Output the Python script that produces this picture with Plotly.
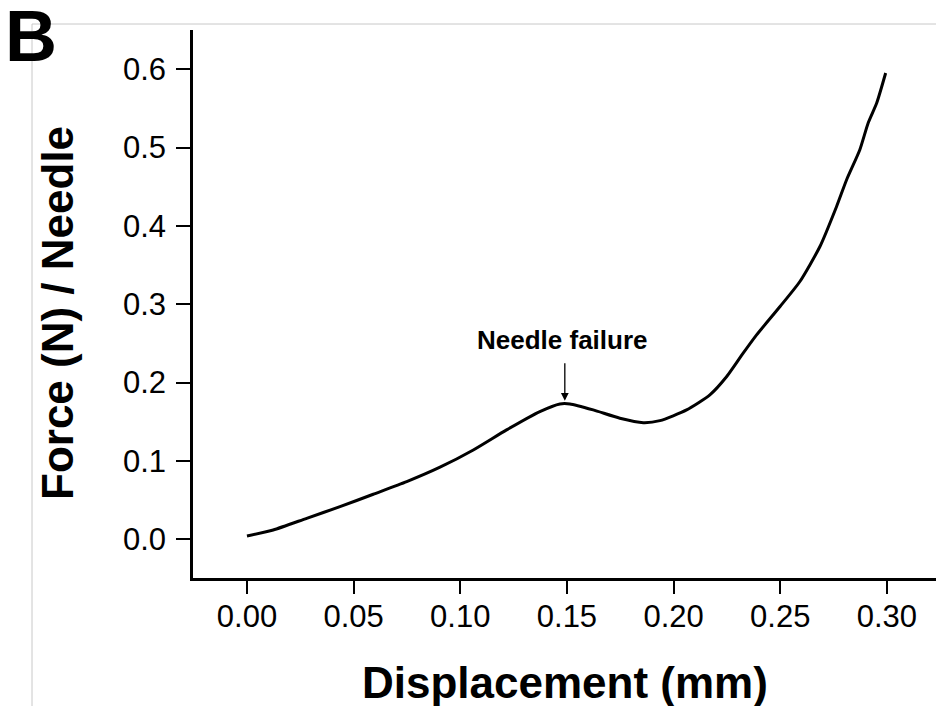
import plotly.graph_objects as go

displacement = [0.000, 0.0123, 0.0280, 0.0436, 0.0592, 0.0749, 0.0905, 0.1061, 0.1217,
                0.1373, 0.1467, 0.1514, 0.1623, 0.1748, 0.1858, 0.1936, 0.2061, 0.2170,
                0.2249, 0.2326, 0.2389, 0.2499, 0.2592, 0.2686, 0.2764, 0.2811, 0.2873,
                0.2912, 0.2952, 0.2994]
force = [0.0042, 0.0119, 0.0268, 0.0416, 0.0575, 0.0736, 0.0920, 0.1140, 0.1396,
         0.1630, 0.1728, 0.1728, 0.1651, 0.1545, 0.1489, 0.1515, 0.1651, 0.1843,
         0.2077, 0.2375, 0.2609, 0.2971, 0.3290, 0.3737, 0.4248, 0.4589, 0.4972,
         0.5313, 0.5568, 0.5951]

x_ticks = [0.00, 0.05, 0.10, 0.15, 0.20, 0.25, 0.30]
x_tick_labels = ["0.00", "0.05", "0.10", "0.15", "0.20", "0.25", "0.30"]
y_ticks = [0.0, 0.1, 0.2, 0.3, 0.4, 0.5, 0.6]
y_tick_labels = ["0.0", "0.1", "0.2", "0.3", "0.4", "0.5", "0.6"]

FONT = "Liberation Sans, Arial, sans-serif"

fig = go.Figure()
fig.add_trace(go.Scatter(x=displacement, y=force, mode="lines",
                         line=dict(color="black", width=3, shape="spline", smoothing=0.6),
                         showlegend=False, hoverinfo="skip"))

fig.update_layout(
    width=936, height=706,
    margin=dict(l=193, r=0, t=30, b=128),
    paper_bgcolor="white", plot_bgcolor="white",
    font=dict(family=FONT, color="black"),
    xaxis=dict(range=[-0.0253, 0.323], tickvals=x_ticks, ticktext=x_tick_labels,
               showgrid=False, zeroline=False, showline=True, linecolor="black", linewidth=2.5,
               ticks="outside", ticklen=13, tickwidth=2, tickcolor="black",
               tickfont=dict(size=31, family=FONT, color="black"), ticklabelstandoff=-4),
    yaxis=dict(range=[-0.0494, 0.650], tickvals=y_ticks, ticktext=y_tick_labels,
               showgrid=False, zeroline=False, showline=True, linecolor="black", linewidth=2.5,
               ticks="outside", ticklen=14, tickwidth=2, tickcolor="black",
               tickfont=dict(size=31, family=FONT, color="black"), ticklabelstandoff=4),
    shapes=[
        dict(type="line", xref="paper", yref="paper", x0=(32 - 193) / 743, x1=1.01,
             y0=(578 - 24) / 548, y1=(578 - 24) / 548, line=dict(color="#c8c8c8", width=1)),
        dict(type="line", xref="paper", yref="paper", x0=(32 - 193) / 743, x1=(32 - 193) / 743,
             y0=(578 - 24) / 548, y1=(578 - 710) / 548, line=dict(color="#c8c8c8", width=1)),
    ],
    annotations=[
        dict(text="<b>Force (N) / Needle</b>", xref="paper", yref="paper",
             x=(57 - 193) / 743, y=(578 - 313) / 548, textangle=-90, showarrow=False,
             xanchor="center", yanchor="middle", font=dict(size=44, family=FONT, color="black")),
        dict(text="<b>Displacement (mm)</b>", xref="paper", yref="paper",
             x=(565 - 193) / 743, y=(578 - 682) / 548, showarrow=False,
             xanchor="center", yanchor="middle", font=dict(size=44, family=FONT, color="black")),
        dict(text="<b>B</b>", xref="paper", yref="paper",
             x=(4 - 193) / 743, y=(578 - 36) / 548, showarrow=False, borderpad=0,
             xanchor="left", yanchor="middle", font=dict(size=72, family=FONT, color="black")),
        dict(text="<b>Needle failure</b>", xref="x", yref="y",
             x=0.1477, y=0.2545, showarrow=False, xanchor="center", yanchor="middle",
             font=dict(size=26, family=FONT, color="black")),
        dict(text="", xref="x", yref="y", x=0.149, y=0.1767, ax=0, ay=-39,
             showarrow=True, arrowhead=2, arrowsize=1.2, arrowwidth=1.3, arrowcolor="black"),
    ],
)

fig.write_html("out.html", config={"displayModeBar": False},
               post_script="document.body.style.margin='0';document.body.style.overflow='hidden';")
